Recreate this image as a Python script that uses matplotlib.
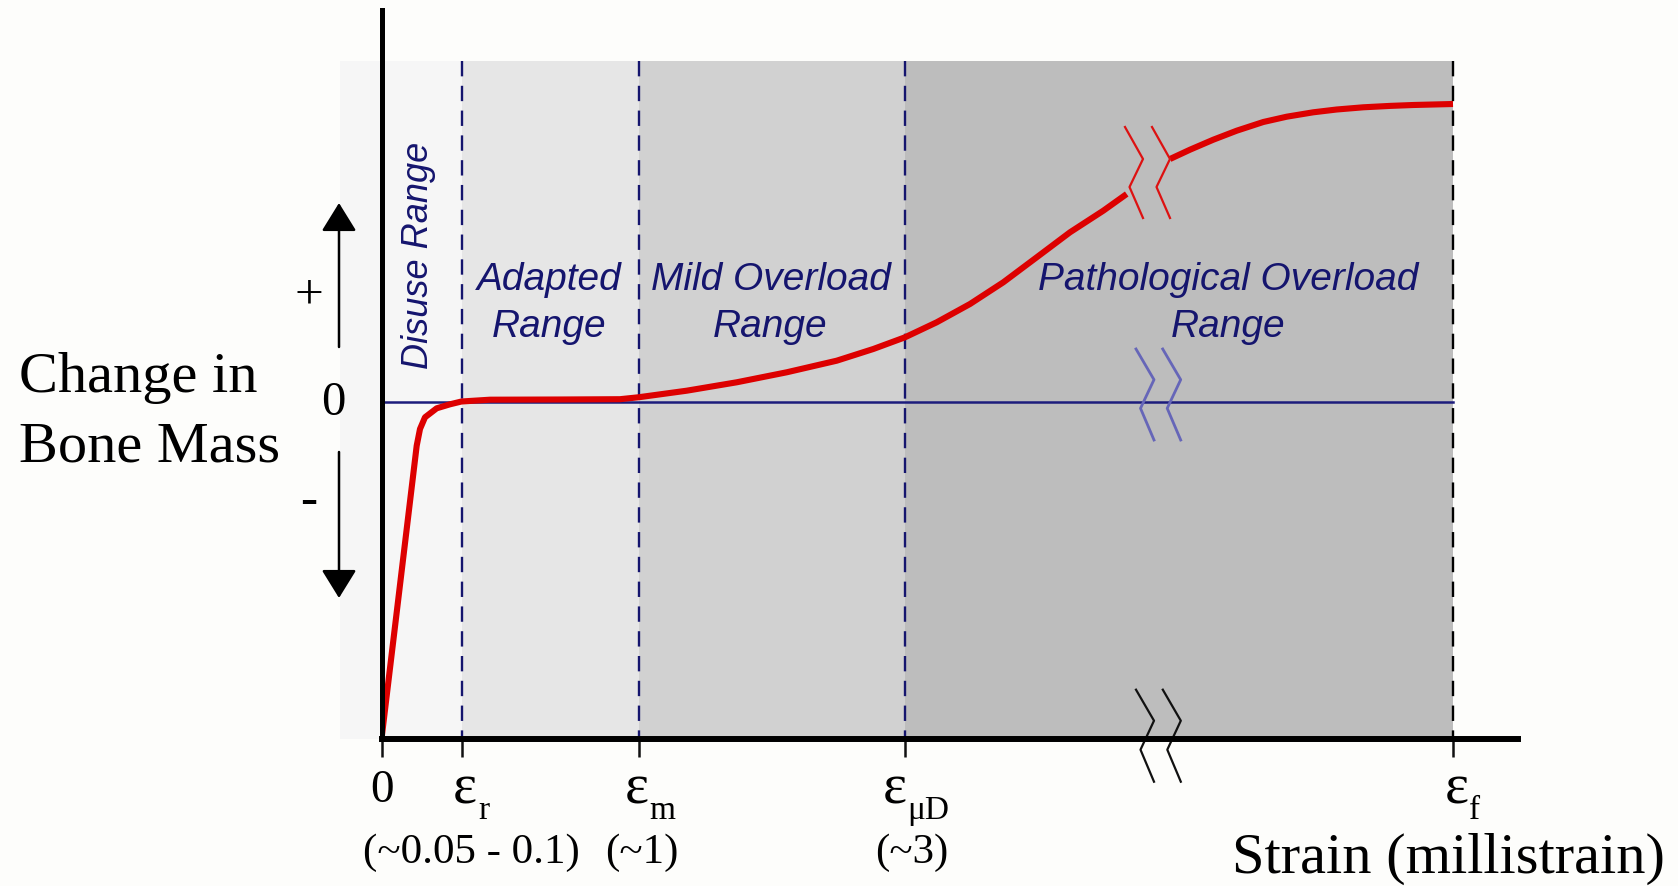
import matplotlib
matplotlib.use('Agg')
import matplotlib.pyplot as plt

plt.rcParams['font.family'] = ['Liberation Serif', 'DejaVu Serif']

# strain thresholds on the (broken) strain axis, schematic units
thresholds = [0.0, 0.805, 2.575, 5.235, 10.715]
threshold_subs = ['', 'r', 'm', 'μD', 'f']
threshold_values = ['', '(~0.05 - 0.1)', '(~1)', '(~3)', '']

# shaded strain ranges: edges and fill colours
region_edges = [-0.415, 0.805, 2.575, 5.235, 10.715]
region_colors = ['#f6f6f6', '#e6e6e6', '#d1d1d1', '#bdbdbd']
region_names = ['Disuse Range', 'Adapted\nRange', 'Mild Overload\nRange',
                'Pathological Overload\nRange']

# change in bone mass vs strain, either side of the break
strain_low = [0.0, 0.352, 0.385, 0.435, 0.552, 0.685, 0.80, 1.085,
              1.785, 2.385, 2.568, 3.052, 3.552, 4.052, 4.552, 4.918, 5.235,
              5.552, 5.885, 6.218, 6.552, 6.885, 7.218, 7.452]
mass_low = [-3.37, -0.437, -0.27, -0.153, -0.063, -0.023, 0.005, 0.023,
            0.025, 0.028, 0.047, 0.113, 0.197, 0.297, 0.413, 0.53, 0.647,
            0.797, 0.98, 1.197, 1.447, 1.697, 1.913, 2.08]
strain_high = [7.885, 8.085, 8.318, 8.552, 8.818, 9.052, 9.318, 9.552,
               9.818, 10.085, 10.318, 10.715]
mass_high = [2.43, 2.523, 2.623, 2.713, 2.80, 2.853, 2.897, 2.925,
             2.947, 2.961, 2.97, 2.98]

# "//" break symbols: zig-zag shape and where they sit
break_dx = [0.0, 0.18, 0.045, 0.18]
curve_break_x = [7.435, 7.705]
curve_break_y = [2.75, 2.43, 2.15, 1.84]
zero_break_x = [7.545, 7.812]
zero_break_y = [0.53, 0.223, -0.063, -0.38]
axis_break_x = [7.545, 7.813]
axis_break_y = [-2.877, -3.187, -3.477, -3.797]

y_bottom, y_shade_top, y_top = -3.37, 3.41, 3.92
x_right = 11.365

navy = '#15156e'

fig = plt.figure(figsize=(16.78, 8.87), dpi=100, facecolor='#fdfdfb')
ax = fig.add_axes([381.5 / 1678, 147 / 887, 1136.5 / 1678, 729 / 887])
ax.set_facecolor('none')
ax.set_xlim(0, x_right)
ax.set_ylim(y_bottom, y_top)

# background bands
for x0, x1, c in zip(region_edges[:-1], region_edges[1:], region_colors):
    ax.fill_between([x0, x1], y_bottom, y_shade_top, color=c, lw=0,
                    zorder=0, clip_on=False)

# range boundaries
for i, x in enumerate(thresholds[1:]):
    col = 'black' if i == len(thresholds) - 2 else navy
    ax.plot([x, x], [y_shade_top, y_bottom], color=col, lw=1.7,
            linestyle=(0, (6.5, 4)), zorder=2)

# zero line
ax.plot([0, thresholds[-1]], [0, 0], color='#1c1c7c', lw=1.8, zorder=2)

# response curve
ax.plot(strain_low, mass_low, color='#dd0000', lw=4.4, zorder=4,
        solid_joinstyle='round', solid_capstyle='butt')
ax.plot(strain_high, mass_high, color='#dd0000', lw=4.4, zorder=4,
        solid_joinstyle='round', solid_capstyle='butt')

# break symbols
for x0 in curve_break_x:
    ax.plot([x0 + d for d in break_dx], curve_break_y, color='#dd1111',
            lw=1.6, zorder=5)
for x0 in zero_break_x:
    ax.plot([x0 + d for d in break_dx], zero_break_y, color='#6666b8',
            lw=2.0, zorder=5)
for x0 in axis_break_x:
    ax.plot([x0 + d for d in break_dx], axis_break_y, color='#111111',
            lw=1.6, zorder=5, clip_on=False)

# axes
for s in ['top', 'right']:
    ax.spines[s].set_visible(False)
ax.spines['left'].set_linewidth(3.6)
ax.spines['bottom'].set_linewidth(4.3)
ax.spines['left'].set_zorder(6)
ax.spines['bottom'].set_zorder(6)
ax.set_yticks([])
ax.set_xticks(thresholds)
ax.set_xticklabels([])
ax.tick_params(axis='x', direction='out', length=13, width=1.8,
               color='#111111')

# strain axis labels
ax.text(0, -3.99, '0', ha='center', va='baseline', fontsize=34)
eps_x = [0.835, 2.55, 5.13, 10.755]
sub_x = [0.965, 2.68, 5.26, 10.875]
for ex, sx, sub in zip(eps_x, sub_x, threshold_subs[1:]):
    ax.text(ex, -4.00, 'ε', ha='center', va='baseline', fontsize=41)
    ax.text(sx, -4.16, sub, ha='left', va='baseline', fontsize=24)
val_x = [0.9, 2.602, 5.305]
for vx, v in zip(val_x, threshold_values[1:4]):
    ax.text(vx, -4.60, v, ha='center', va='baseline', fontsize=31)
ax.text(10.665, -4.70, 'Strain (millistrain)', ha='center', va='baseline',
        fontsize=42)

# bone mass axis labels
ax.text(-3.625, 0.11, 'Change in', ha='left', va='baseline', fontsize=42)
ax.text(-3.625, -0.585, 'Bone Mass', ha='left', va='baseline', fontsize=42)
ax.text(-0.48, 0.0, '0', ha='center', va='center', fontsize=35)
ax.text(-0.725, 1.07, '+', ha='center', va='center', fontsize=37)
ax.text(-0.725, -0.99, '-', ha='center', va='center', fontsize=37)
arrow = dict(arrowstyle='-|>,head_length=0.55,head_width=0.34',
             color='black', lw=1.8, mutation_scale=32,
             shrinkA=0, shrinkB=0)
ax.annotate('', xy=(-0.425, 1.99), xytext=(-0.425, 0.55),
            arrowprops=arrow, annotation_clip=False)
ax.annotate('', xy=(-0.425, -1.96), xytext=(-0.425, -0.50),
            arrowprops=arrow, annotation_clip=False)

# range names
sans = dict(family=['Liberation Sans', 'DejaVu Sans'], style='italic',
            color=navy)
ax.text(0.375, 1.48, region_names[0], rotation=90, ha='center', va='center',
        fontsize=26, **sans)
name_x = [1.675, 3.89, 8.47]
for nx, name in zip(name_x, region_names[1:]):
    first, second = name.split('\n')
    ax.text(nx, 1.13, first, ha='center', va='baseline', fontsize=28, **sans)
    ax.text(nx, 0.66, second, ha='center', va='baseline', fontsize=28, **sans)

fig.savefig('out.png', dpi=100, facecolor=fig.get_facecolor())
